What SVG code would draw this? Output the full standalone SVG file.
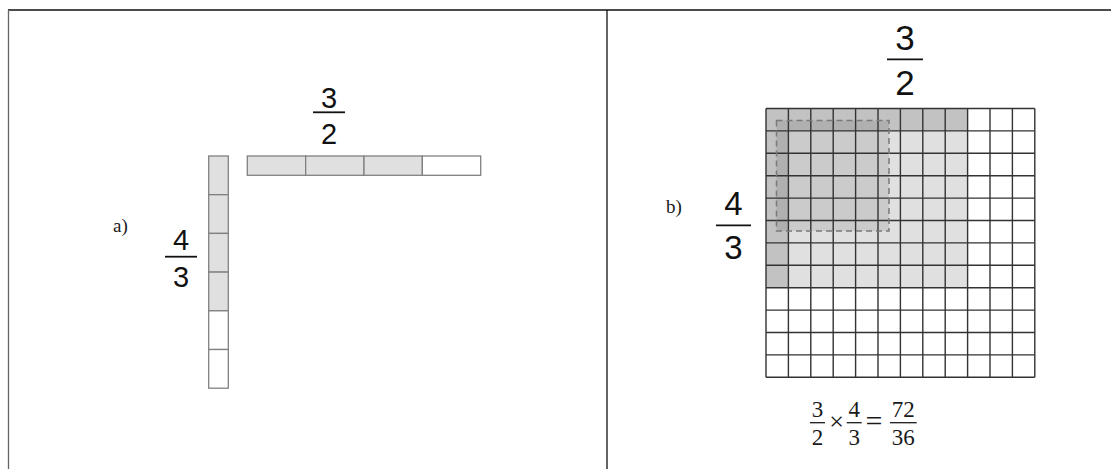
<svg xmlns="http://www.w3.org/2000/svg" width="1111" height="469" viewBox="0 0 1111 469">
<style>
.frame{stroke:#111;stroke-width:1.3;fill:none}
.strip{stroke:#808080;stroke-width:1.3}
.g{fill:#e0e0e0}
.w{fill:#ffffff}
.num{font-family:"Liberation Sans",Arial,sans-serif;fill:#111;text-anchor:middle}
.ser{font-family:"Liberation Serif","Times New Roman",serif;fill:#1a1a1a}
.f{font-size:23px;text-anchor:middle}
.bar{stroke:#111;stroke-width:1.8}
.sbar{stroke:#1a1a1a;stroke-width:1.3}
.grid{stroke:#333;stroke-width:1.4;fill:none}
</style>
<rect width="1111" height="469" fill="#fff"/>
<g id="frame">
<line class="frame" x1="8" y1="10" x2="1111" y2="10"/>
<line x1="8.5" y1="10" x2="8.5" y2="469" stroke="#666" stroke-width="1.3"/>
<line class="frame" x1="607" y1="10" x2="607" y2="469"/>
</g>
<g id="panel-a">
<text class="ser" x="113" y="232" font-size="19">a)</text>
<g id="strip-vertical">
<rect class="strip g" x="208.7" y="156" width="19.6" height="38.7"/>
<rect class="strip g" x="208.7" y="194.7" width="19.6" height="38.7"/>
<rect class="strip g" x="208.7" y="233.4" width="19.6" height="38.7"/>
<rect class="strip g" x="208.7" y="272.1" width="19.6" height="38.7"/>
<rect class="strip w" x="208.7" y="310.8" width="19.6" height="38.7"/>
<rect class="strip w" x="208.7" y="349.5" width="19.6" height="38.7"/>
</g>
<g id="strip-horizontal">
<rect class="strip g" x="247.3" y="156" width="58.35" height="19.3"/>
<rect class="strip g" x="305.65" y="156" width="58.35" height="19.3"/>
<rect class="strip g" x="364" y="156" width="58.35" height="19.3"/>
<rect class="strip w" x="422.35" y="156" width="58.35" height="19.3"/>
</g>
<g id="frac-a-top">
<text class="num" x="329" y="108" font-size="29">3</text>
<line class="bar" x1="313" y1="112.3" x2="345" y2="112.3"/>
<text class="num" x="329" y="144" font-size="29">2</text>
</g>
<g id="frac-a-left">
<text class="num" x="181" y="250" font-size="29">4</text>
<line class="bar" x1="165" y1="256.7" x2="197" y2="256.7"/>
<text class="num" x="181" y="286.7" font-size="29">3</text>
</g>
</g>
<g id="panel-b">
<text class="ser" x="666" y="213" font-size="19">b)</text>
<g id="frac-b-top">
<text class="num" x="905" y="50" font-size="35">3</text>
<line class="bar" x1="887" y1="59.3" x2="923" y2="59.3"/>
<text class="num" x="905" y="95" font-size="35">2</text>
</g>
<g id="frac-b-left">
<text class="num" x="733.5" y="215" font-size="33">4</text>
<line class="bar" x1="716" y1="225.3" x2="751" y2="225.3"/>
<text class="num" x="733.5" y="259" font-size="33">3</text>
</g>
<g id="grid-fill">
<rect x="766" y="108.5" width="201.6" height="179.2" fill="#e0e0e0"/>
<rect x="766" y="108.5" width="201.6" height="22.4" fill="#c2c2c2"/>
<rect x="766" y="108.5" width="22.4" height="179.2" fill="#c2c2c2"/>
<rect x="776.5" y="120.5" width="112.5" height="110.5" fill="#000" fill-opacity="0.09"/>
</g>
<g id="grid" class="grid">
<path d="M766 108.5V377.3M788.4 108.5V377.3M810.8 108.5V377.3M833.2 108.5V377.3M855.6 108.5V377.3M878 108.5V377.3M900.4 108.5V377.3M922.8 108.5V377.3M945.2 108.5V377.3M967.6 108.5V377.3M990 108.5V377.3M1012.4 108.5V377.3M1034.8 108.5V377.3"/>
<path d="M766 108.5H1034.8M766 130.9H1034.8M766 153.3H1034.8M766 175.7H1034.8M766 198.1H1034.8M766 220.5H1034.8M766 242.9H1034.8M766 265.3H1034.8M766 287.7H1034.8M766 310.1H1034.8M766 332.5H1034.8M766 354.9H1034.8M766 377.3H1034.8"/>
</g>
<rect id="dashed-region" x="776.5" y="120.5" width="112.5" height="110.5" fill="none" stroke="#7a7a7a" stroke-width="1.5" stroke-dasharray="6,4"/>
<g id="formula" class="ser">
<text class="f" x="817.5" y="416.7">3</text>
<line class="sbar" x1="810" y1="422.7" x2="825" y2="422.7"/>
<text class="f" x="817.5" y="445">2</text>
<text x="836.5" y="430" font-size="26" text-anchor="middle">×</text>
<text class="f" x="854.2" y="416.7">4</text>
<line class="sbar" x1="846.7" y1="422.7" x2="861.7" y2="422.7"/>
<text class="f" x="854.2" y="445">3</text>
<text x="874" y="431" font-size="30" text-anchor="middle">=</text>
<text class="f" x="903.3" y="416.7">72</text>
<line class="sbar" x1="890" y1="422.7" x2="916.7" y2="422.7"/>
<text class="f" x="903.3" y="445">36</text>
</g>
</g>
</svg>
